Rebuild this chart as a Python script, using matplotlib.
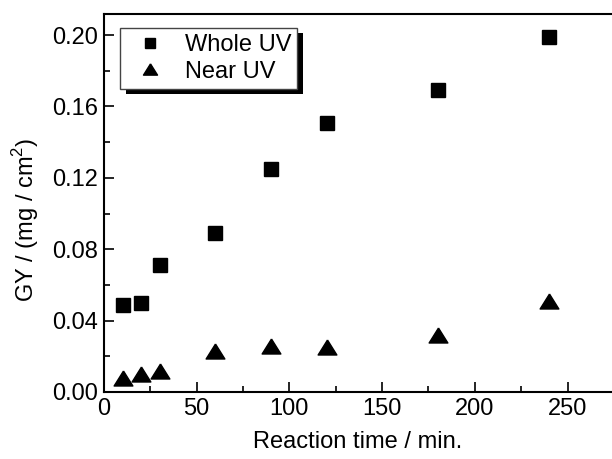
import matplotlib
matplotlib.use("Agg")
import matplotlib.pyplot as plt
from matplotlib.patches import Rectangle
from matplotlib.ticker import MultipleLocator, FormatStrFormatter

# reaction time (min)
time_min = [10, 20, 30, 60, 90, 120, 180, 240]
# GY values (mg / cm^2)
whole_uv = [0.049, 0.050, 0.071, 0.089, 0.125, 0.151, 0.169, 0.199]
near_uv = [0.008, 0.010, 0.012, 0.023, 0.026, 0.025, 0.032, 0.051]

plt.rcParams["font.family"] = ["Liberation Sans", "DejaVu Sans"]
plt.rcParams["mathtext.fontset"] = "custom"
plt.rcParams["mathtext.rm"] = "Liberation Sans"

fig = plt.figure(figsize=(6.12, 4.59), dpi=100)
ax = fig.add_axes([0.170, 0.146, 0.830, 0.8235])

# wide, flat triangle like the original
tri = [(0, 0.8), (-1, -0.8), (1, -0.8), (0, 0.8)]

ax.plot(time_min, whole_uv, ls="none", marker="s", ms=9.6, color="black",
        label="Whole UV")
ax.plot(time_min, near_uv, ls="none", marker=tri, ms=13.5, color="black",
        label="Near UV")

ax.set_xlim(0, 274)
ax.set_ylim(0, 0.2118)
ax.xaxis.set_major_locator(MultipleLocator(50))
ax.xaxis.set_minor_locator(MultipleLocator(25))
ax.yaxis.set_major_locator(MultipleLocator(0.04))
ax.yaxis.set_minor_locator(MultipleLocator(0.02))
ax.yaxis.set_major_formatter(FormatStrFormatter("%.2f"))

ax.tick_params(which="both", direction="in", top=False, right=False,
               labelsize=17, width=1.2, pad=4)
ax.tick_params(which="major", length=7)
ax.tick_params(which="minor", length=4)
ax.spines["right"].set_visible(False)
for s in ("left", "bottom", "top"):
    ax.spines[s].set_linewidth(1.5)

ax.set_xlabel("Reaction time / min.", fontsize=17, labelpad=8)
ax.set_ylabel("GY / (mg / cm$^2$)", fontsize=17)
ax.yaxis.set_label_coords(-0.125, 0.455)

leg = ax.legend(loc="upper left", bbox_to_anchor=(0.0315, 0.963),
                borderaxespad=0, fancybox=False, fontsize=17,
                handletextpad=0.5, labelspacing=0.2, borderpad=0.25,
                handlelength=2.0, markerscale=0.75)
leg.get_frame().set_edgecolor("#444444")
leg.get_frame().set_linewidth(1.0)
leg.get_frame().set_alpha(1)

# black drop shadow behind legend box
fig.canvas.draw()
bb = leg.get_window_extent()
inv = ax.transAxes.inverted()
(x0, y0), (x1, y1) = inv.transform([(bb.x0 + 6, bb.y0 - 5), (bb.x1 + 6, bb.y1 - 5)])
ax.add_patch(Rectangle((x0, y0), x1 - x0, y1 - y0, transform=ax.transAxes,
                       facecolor="black", edgecolor="none", zorder=4.9,
                       clip_on=False))

fig.savefig("out.png", dpi=100)
